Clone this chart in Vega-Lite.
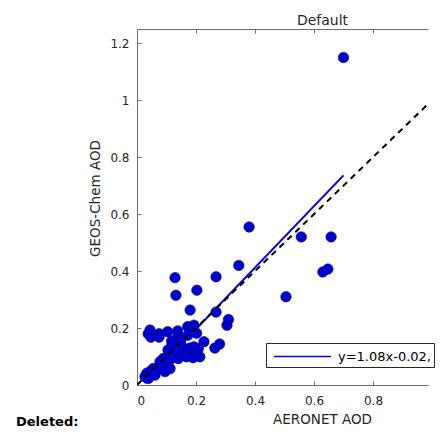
{
  "$schema": "https://vega.github.io/schema/vega-lite/v6.json",
  "width": 291,
  "height": 356,
  "autosize": "none",
  "padding": {"left": 137, "top": 29, "right": 13, "bottom": 47},
  "background": "white",
  "title": {"text": "Deleted:", "orient": "bottom", "anchor": "start", "frame": "group", "dx": -121, "offset": -10, "fontSize": 13, "fontWeight": "bold", "font": "DejaVu Sans", "color": "#000000"},
  "datasets": {
    "pts": [
      {"x": 0.70, "y": 1.15}, {"x": 0.38, "y": 0.555}, {"x": 0.557, "y": 0.52}, {"x": 0.658, "y": 0.52},
      {"x": 0.345, "y": 0.42}, {"x": 0.63, "y": 0.397}, {"x": 0.647, "y": 0.407}, {"x": 0.505, "y": 0.31},
      {"x": 0.268, "y": 0.38}, {"x": 0.129, "y": 0.377}, {"x": 0.132, "y": 0.315}, {"x": 0.203, "y": 0.333},
      {"x": 0.18, "y": 0.263}, {"x": 0.268, "y": 0.256}, {"x": 0.31, "y": 0.23}, {"x": 0.305, "y": 0.21},
      {"x": 0.227, "y": 0.152}, {"x": 0.264, "y": 0.13}, {"x": 0.28, "y": 0.144},
      {"x": 0.044, "y": 0.193}, {"x": 0.038, "y": 0.18}, {"x": 0.047, "y": 0.168}, {"x": 0.075, "y": 0.18},
      {"x": 0.075, "y": 0.168}, {"x": 0.104, "y": 0.187}, {"x": 0.138, "y": 0.19}, {"x": 0.139, "y": 0.173},
      {"x": 0.172, "y": 0.205}, {"x": 0.193, "y": 0.21}, {"x": 0.186, "y": 0.196}, {"x": 0.202, "y": 0.182},
      {"x": 0.134, "y": 0.151}, {"x": 0.151, "y": 0.138}, {"x": 0.105, "y": 0.123}, {"x": 0.129, "y": 0.117},
      {"x": 0.163, "y": 0.117}, {"x": 0.18, "y": 0.13}, {"x": 0.193, "y": 0.134}, {"x": 0.202, "y": 0.111},
      {"x": 0.213, "y": 0.099}, {"x": 0.19, "y": 0.096}, {"x": 0.168, "y": 0.099}, {"x": 0.14, "y": 0.093},
      {"x": 0.117, "y": 0.093}, {"x": 0.089, "y": 0.093}, {"x": 0.078, "y": 0.082}, {"x": 0.1, "y": 0.076},
      {"x": 0.112, "y": 0.058}, {"x": 0.083, "y": 0.058}, {"x": 0.067, "y": 0.053}, {"x": 0.055, "y": 0.058},
      {"x": 0.044, "y": 0.047}, {"x": 0.033, "y": 0.041}, {"x": 0.027, "y": 0.029}, {"x": 0.038, "y": 0.023},
      {"x": 0.061, "y": 0.035}, {"x": 0.095, "y": 0.047}, {"x": 0.151, "y": 0.164}, {"x": 0.117, "y": 0.154},
      {"x": 0.173, "y": 0.175}, {"x": 0.117, "y": 0.134}, {"x": 0.14, "y": 0.128}, {"x": 0.208, "y": 0.128}
    ],
    "fit": [
      {"x": 0.025, "y": 0.007, "label": "y=1.08x-0.02,"},
      {"x": 0.70, "y": 0.736, "label": "y=1.08x-0.02,"}
    ],
    "one": [
      {"x": 0, "y": 0},
      {"x": 1.25, "y": 1.25}
    ]
  },
  "layer": [
    {
      "data": {"name": "pts"},
      "mark": {"type": "point", "filled": true, "size": 110, "fill": "#0000cc", "stroke": "#00008b", "strokeWidth": 0.6, "opacity": 1},
      "encoding": {
        "x": {"field": "x", "type": "quantitative", "scale": {"domain": [0, 0.9865], "nice": false},
          "axis": {"values": [0, 0.2, 0.4, 0.6, 0.8], "format": "~g", "title": "AERONET AOD", "titleX": 185, "titleY": 38, "titleBaseline": "alphabetic"}},
        "y": {"field": "y", "type": "quantitative", "scale": {"domain": [0, 1.25], "nice": false},
          "axis": {"values": [0, 0.2, 0.4, 0.6, 0.8, 1, 1.2], "format": "~g", "title": "GEOS-Chem AOD", "titleX": -42, "titleY": 169, "titleAngle": -90, "titleBaseline": "middle", "titleAlign": "center"}}
      }
    },
    {
      "data": {"name": "fit"},
      "mark": {"type": "line", "strokeWidth": 2},
      "encoding": {
        "x": {"field": "x", "type": "quantitative", "axis": null},
        "y": {"field": "y", "type": "quantitative"},
        "color": {"field": "label", "type": "nominal", "scale": {"range": ["#0000ee"]},
          "legend": {"title": null, "orient": "none", "legendX": 129, "legendY": 314, "direction": "vertical",
            "strokeColor": "#262626", "fillColor": "white", "padding": 3, "cornerRadius": 0,
            "symbolType": "M-0.58,0H5.42", "symbolSize": 361, "symbolStrokeWidth": 1.5,
            "labelOffset": 48, "labelFontSize": 13, "labelFont": "DejaVu Sans", "labelColor": "#000000", "labelLimit": 200}}
      }
    },
    {
      "data": {"name": "one"},
      "mark": {"type": "line", "stroke": "#000000", "strokeWidth": 2, "strokeDash": [6, 5], "clip": true},
      "encoding": {
        "x": {"field": "x", "type": "quantitative",
          "axis": {"orient": "top", "values": [0, 0.2, 0.4, 0.6, 0.8], "labels": false, "title": "Default", "titleX": 185, "titleY": -5, "titleBaseline": "alphabetic", "titleFontSize": 14}},
        "y": {"field": "y", "type": "quantitative"}
      }
    }
  ],
  "resolve": {"axis": {"x": "independent"}},
  "config": {
    "view": {"stroke": null},
    "axis": {
      "domainColor": "#6e6e6e", "tickColor": "#6e6e6e", "tickSize": -4, "grid": false,
      "labelFont": "DejaVu Sans", "labelFontSize": 12, "labelColor": "#262626",
      "titleFont": "DejaVu Sans", "titleFontSize": 13.5, "titleFontWeight": "normal", "titleColor": "#262626"
    },
    "axisLeft": {"labelPadding": 12},
    "axisBottom": {"labelPadding": 14}
  }
}
